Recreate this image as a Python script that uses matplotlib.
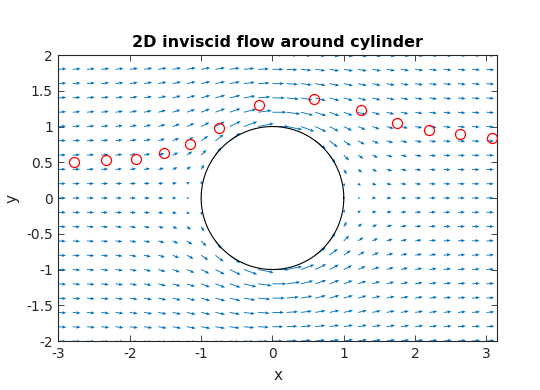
import numpy as np
import matplotlib
matplotlib.use("Agg")
import matplotlib.pyplot as plt

# --- data -------------------------------------------------------------
# grid of quiver points (flow field samples)
grid_x = np.round(np.arange(-3.0, 3.2001, 0.2), 6)
grid_y = np.round(np.arange(-2.0, 2.0001, 0.2), 6)
U_inf = 1.0      # free-stream speed
R_cyl = 1.0      # cylinder radius

# particle positions (red circles)
particle_x = [-2.78, -2.34, -1.92, -1.52, -1.15, -0.75, -0.19,
              0.58, 1.24, 1.75, 2.20, 2.63, 3.08]
particle_y = [0.50, 0.53, 0.55, 0.63, 0.75, 0.98, 1.30,
              1.38, 1.23, 1.05, 0.95, 0.89, 0.84]

x_ticks = [-3, -2, -1, 0, 1, 2, 3]
y_ticks = [-2, -1.5, -1, -0.5, 0, 0.5, 1, 1.5, 2]
y_ticklabels = ['-2', '-1.5', '-1', '-0.5', '0', '0.5', '1', '1.5', '2']

# --- field (inviscid potential flow around a cylinder) ---------------
X, Y = np.meshgrid(grid_x, grid_y)
r2 = X**2 + Y**2
with np.errstate(divide='ignore', invalid='ignore'):
    U = U_inf * (1 - R_cyl**2 * (X**2 - Y**2) / r2**2)
    V = U_inf * (-2 * R_cyl**2 * X * Y / r2**2)
inside = r2 < R_cyl**2 - 1e-9
U = np.where(inside, np.nan, U)
V = np.where(inside, np.nan, V)

# --- plot -------------------------------------------------------------
plt.rcParams['axes.unicode_minus'] = False
plt.rcParams['font.family'] = ['DejaVu Sans']
dark = '#262626'

fig = plt.figure(figsize=(5.4, 3.9), dpi=100)
ax = fig.add_axes([0.1083, 0.1256, 0.812, 0.7333])

ax.quiver(X, Y, U, V, color='#0072BD', angles='xy', scale_units='xy',
          scale=1 / 0.115, width=0.002, headwidth=3.6, headlength=4.5,
          headaxislength=4.2, zorder=2)

theta = np.linspace(0, 2 * np.pi, 300)
ax.plot(R_cyl * np.cos(theta), R_cyl * np.sin(theta), color='black',
        lw=0.8, zorder=3)

ax.plot(particle_x, particle_y, 'o', mfc='none', mec='red', ms=7.2,
        mew=0.9, zorder=4)

ax.set_xlim(-3, 3.147)
ax.set_ylim(-2, 2)
ax.set_xticks(x_ticks)
ax.set_yticks(y_ticks)
ax.set_yticklabels(y_ticklabels)
ax.tick_params(direction='in', length=4, width=0.6, top=True, right=True,
               labelsize=10, colors=dark, pad=4)
for s in ax.spines.values():
    s.set_color(dark)
    s.set_linewidth(0.8)

ax.set_xlabel('x', fontsize=11, color=dark, labelpad=5)
ax.set_ylabel('y', fontsize=11, color=dark, labelpad=5)
ax.set_title('2D inviscid flow around cylinder', fontsize=11.5,
             fontweight='bold', color='black', pad=6)

fig.savefig('out.png', dpi=100)
